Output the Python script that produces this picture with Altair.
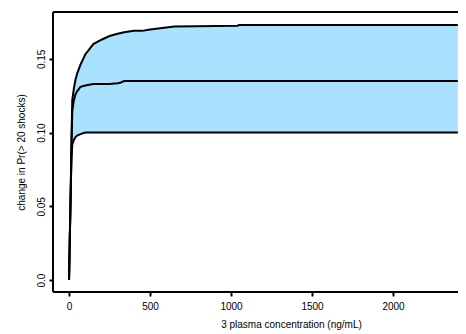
import altair as alt
import pandas as pd

conc = [0, 5, 10, 15, 20, 30, 40, 50, 70, 100, 150, 200, 250, 300, 320, 340, 400, 450, 500, 650, 1040, 1050, 2400]
upper = [0, 0.030, 0.058, 0.095, 0.122, 0.130, 0.136, 0.140, 0.146, 0.153, 0.160, 0.163, 0.1655, 0.167, 0.1675, 0.168, 0.169, 0.169, 0.170, 0.172, 0.1725, 0.173, 0.173]
middle = [0, 0.030, 0.058, 0.090, 0.115, 0.122, 0.126, 0.128, 0.131, 0.132, 0.133, 0.133, 0.133, 0.1335, 0.134, 0.135, 0.135, 0.135, 0.135, 0.135, 0.135, 0.135, 0.135]
lower = [0, 0.030, 0.058, 0.082, 0.092, 0.095, 0.097, 0.098, 0.099, 0.100, 0.100, 0.100, 0.100, 0.100, 0.100, 0.100, 0.100, 0.100, 0.100, 0.100, 0.100, 0.100, 0.100]

x_ticks = [0, 500, 1000, 1500, 2000]
y_ticks = [0.0, 0.05, 0.10, 0.15]

df = pd.DataFrame({"conc": conc, "upper": upper, "middle": middle, "lower": lower})
long = df.melt(id_vars="conc", value_vars=["upper", "middle", "lower"], var_name="series", value_name="val")

xscale = alt.Scale(domain=[-99, 2401], nice=False, zero=False)
yscale = alt.Scale(domain=[-0.0081, 0.1818], nice=False, zero=False)

xaxis = alt.Axis(values=x_ticks, title="3 plasma concentration (ng/mL)", grid=False, domain=False,
                 tickSize=4, tickWidth=2, tickColor="black", labelPadding=5, format="d",
                 labelFontSize=10, labelColor="black", labelFont="Liberation Sans",
                 titleFontSize=10, titleFontWeight="normal", titleColor="black", titleFont="Liberation Sans",
                 titleX=238, titleY=35, titleAlign="center", titleBaseline="alphabetic")
yaxis = alt.Axis(values=y_ticks, title="change in Pr(> 20 shocks)", grid=False, domain=False,
                 tickSize=4, tickWidth=2, tickColor="black", labelPadding=3,
                 labelAngle=270, labelAlign="center", labelBaseline="bottom",
                 labelFontSize=10, labelColor="black", labelFont="Liberation Sans",
                 labelExpr="datum.value == 0 ? '0.0' : format(datum.value, '.2f')",
                 titleFontSize=10, titleFontWeight="normal", titleColor="black", titleFont="Liberation Sans",
                 titlePadding=10)

band = alt.Chart(df).mark_area(color="#aae1ff", opacity=1).encode(
    x=alt.X("conc:Q", scale=xscale, axis=xaxis),
    y=alt.Y("lower:Q", scale=yscale, axis=yaxis),
    y2="upper:Q",
)

lines = alt.Chart(long).mark_line(color="black", strokeWidth=2).encode(
    x=alt.X("conc:Q", scale=xscale),
    y=alt.Y("val:Q", scale=yscale),
    detail="series:N",
)

top_rule = alt.Chart(df).mark_rule(color="black", strokeWidth=2).encode(
    x=alt.value(0), x2=alt.value(405), y=alt.value(0))
bottom_rule = alt.Chart(df).mark_rule(color="black", strokeWidth=2).encode(
    x=alt.value(0), x2=alt.value(405), y=alt.value(280))
left_rule = alt.Chart(df).mark_rule(color="black", strokeWidth=2).encode(
    x=alt.value(0), y=alt.value(0), y2=alt.value(280))

chart = (band + lines + top_rule + bottom_rule + left_rule).properties(
    width=405, height=280,
    autosize=alt.AutoSizeParams(type="none"),
    padding={"left": 45, "top": 4, "right": 0, "bottom": 38},
).configure_view(stroke=None)

chart.save("out.html", embed_options={"renderer": "svg", "actions": False})
